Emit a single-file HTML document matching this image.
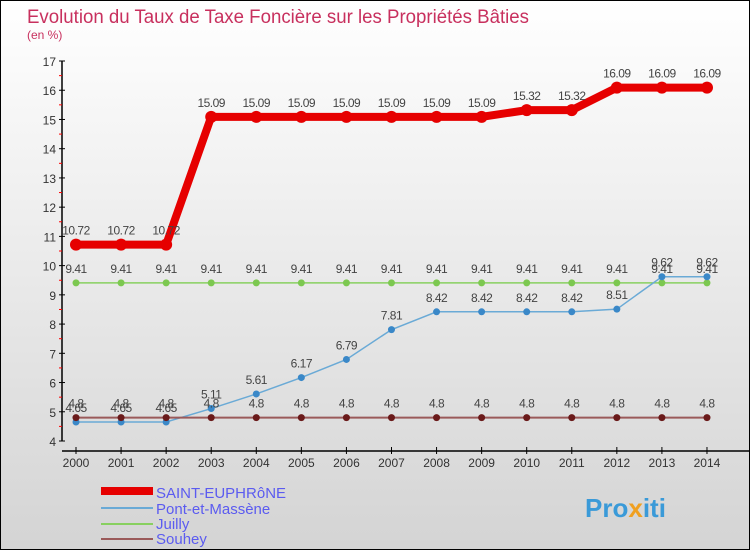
<!DOCTYPE html>
<html><head><meta charset="utf-8"><style>
body{margin:0;width:750px;height:550px;overflow:hidden;font-family:"Liberation Sans",sans-serif}
#wrap{position:relative;width:748px;height:548px;border:1px solid #000;background:linear-gradient(#fff,#d4d4d4)}
</style></head><body>
<div id="wrap">
<svg id="c" width="748" height="548">
<text x="26" y="22" font-size="19" fill="#c8305e" textLength="502" lengthAdjust="spacingAndGlyphs">Evolution du Taux de Taxe Foncière sur les Propriétés Bâties</text>
<text x="26" y="38" font-size="12" fill="#c8305e">(en %)</text>
<g id="axes"></g><g id="series"></g>
<g>
<rect x="100" y="486" width="52" height="8" fill="#e60000"/>
<text x="155" y="497" font-size="15" fill="#5b5bf0">SAINT-EUPHRôNE</text>
<rect x="100" y="506" width="52" height="2" fill="#6aaad6"/>
<text x="155" y="513" font-size="15" fill="#5b5bf0">Pont-et-Massène</text>
<rect x="100" y="522" width="52" height="2" fill="#88d060"/>
<text x="155" y="528" font-size="15" fill="#5b5bf0">Juilly</text>
<rect x="100" y="537" width="52" height="2" fill="#9a5a5a"/>
<text x="155" y="543" font-size="15" fill="#5b5bf0">Souhey</text>
</g>
<text x="584" y="516" font-size="26" font-weight="bold" fill="#3a9ad8">Pro<tspan fill="#f0a020">x</tspan>iti</text>
</svg></div>
<script>
const years=[2000,2001,2002,2003,2004,2005,2006,2007,2008,2009,2010,2011,2012,2013,2014];
const saint=[10.72,10.72,10.72,15.09,15.09,15.09,15.09,15.09,15.09,15.09,15.32,15.32,16.09,16.09,16.09];
const pont=[4.65,4.65,4.65,5.11,5.61,6.17,6.79,7.81,8.42,8.42,8.42,8.42,8.51,9.62,9.62];
const juilly=[9.41,9.41,9.41,9.41,9.41,9.41,9.41,9.41,9.41,9.41,9.41,9.41,9.41,9.41,9.41];
const souhey=[4.8,4.8,4.8,4.8,4.8,4.8,4.8,4.8,4.8,4.8,4.8,4.8,4.8,4.8,4.8];
const yTicks=[4,5,6,7,8,9,10,11,12,13,14,15,16,17];
const NS="http://www.w3.org/2000/svg";
const X=i=>75+i*45.07, Y=v=>440-(v-4)*29.23;
function mk(p,t,a){const e=document.createElementNS(NS,t);for(const k in a)e.setAttribute(k,a[k]);p.appendChild(e);return e;}
const ax=document.getElementById('axes'), sg=document.getElementById('series');
let e=mk(ax,'line',{x1:61,y1:Y(17),x2:61,y2:Y(4),stroke:'#000','stroke-width':1.5});


e=mk(ax,'line',{x1:61,y1:450,x2:750,y2:450,stroke:'#000','stroke-width':1.5});


yTicks.forEach(v=>{
 mk(ax,'line',{x1:58,x2:64,y1:Y(v),y2:Y(v),stroke:'#000'});
 if(v<17) mk(ax,'line',{x1:58,x2:61,y1:Y(v+0.5),y2:Y(v+0.5),stroke:'#f00'});
 const t=mk(ax,'text',{x:55,y:Y(v)+5,'font-size':12,fill:'#333','text-anchor':'end'});t.textContent=v;
 
 
});
years.forEach((y,i)=>{
 mk(ax,'line',{x1:X(i),x2:X(i),y1:446,y2:453,stroke:'#000'});
 const t=mk(ax,'text',{x:X(i),y:466,'font-size':12,fill:'#333','text-anchor':'middle'});t.textContent=y;
 
 
});
function series(arr,name,color,w,r,dot){
 const g=mk(sg,'g',{});
 
 
 mk(g,'polyline',{points:arr.map((v,i)=>X(i)+','+Y(v)).join(' '),fill:'none',stroke:color,'stroke-width':w});
 arr.forEach((v,i)=>{
  const c=mk(g,'circle',{cx:X(i),cy:Y(v),r:r,fill:dot});
  
  
  const t=mk(g,'text',{x:X(i),y:Y(v)-10,'font-size':12,fill:'#444','text-anchor':'middle','letter-spacing':'-0.5'});t.textContent=v;
  
  
 });
}
series(juilly,'juilly','#88d060',1.5,3.5,'#7cc850');
series(pont,'pont-et-massene','#6aaad6',1.5,3.5,'#3a88c8');
series(souhey,'souhey','#9a5a5a',2,3.5,'#6a1a1a');
series(saint,'saint-euphrone','#e60000',8,6,'#e60000');
</script>
</body></html>
